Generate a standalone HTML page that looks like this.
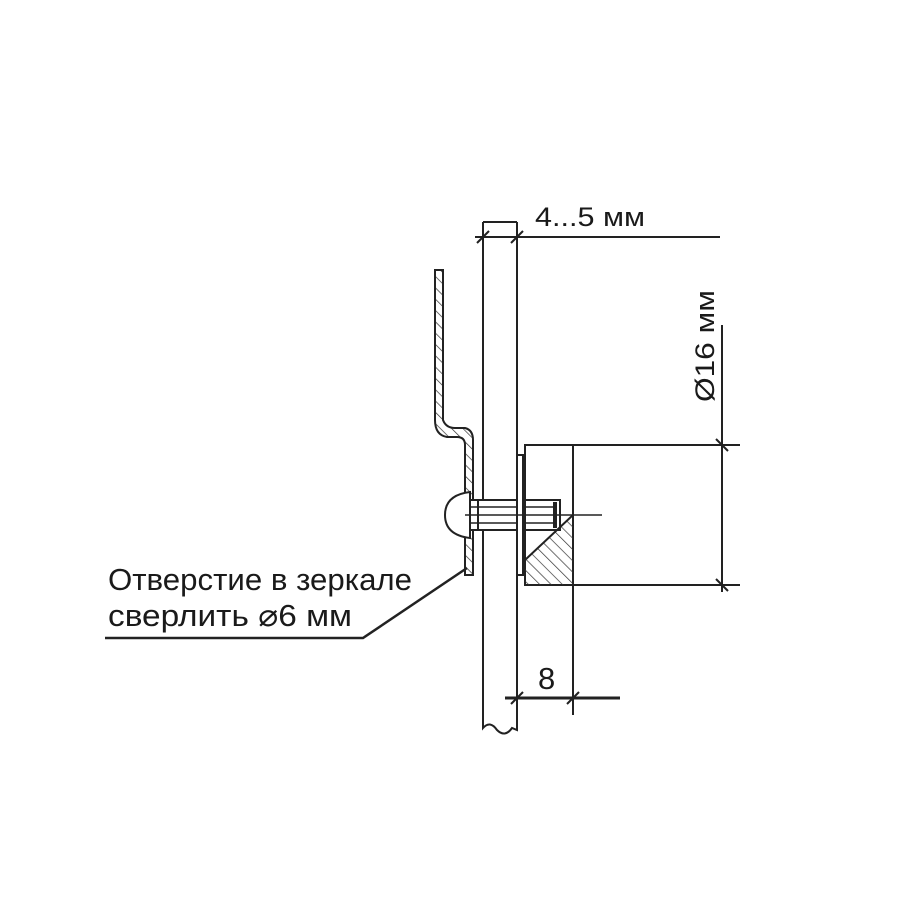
<!DOCTYPE html>
<html><head><meta charset="utf-8"><style>
body{margin:0;background:#fff;}
svg{display:block}
text{font-family:"Liberation Sans","DejaVu Sans",sans-serif;fill:#1a1a1a}
</style></head><body>
<svg width="900" height="900" viewBox="0 0 900 900" xmlns="http://www.w3.org/2000/svg">
<defs>
<pattern id="h" width="8" height="8" patternUnits="userSpaceOnUse" patternTransform="rotate(-45)">
<line x1="0" y1="0" x2="0" y2="8" stroke="#333" stroke-width="1.4"/></pattern>
</defs>
<g stroke="#222" stroke-width="2" fill="none">
<path d="M483 222 L483 728 Q490 720 497 730 Q505 738 512 728 L517 730 L517 222"/>
<line x1="483" y1="222" x2="517" y2="222"/>
<line x1="475" y1="237" x2="720" y2="237"/>
<line x1="477" y1="243" x2="489" y2="231"/>
<line x1="511" y1="243" x2="523" y2="231"/>
<path d="M435 270 L443 270 L443 420 Q446 428 455 428 L465 428 Q473 430 473 440 L473 575 L465 575 L465 445 Q465 437 457 437 L447 437 Q435 435 435 420 Z" fill="url(#h)"/>
<path d="M470 492 Q445 495 445 515 Q445 535 470 538 Z" fill="#fff"/>
<rect x="470" y="500" width="90" height="30" fill="#fff"/>
<line x1="478" y1="500" x2="478" y2="530"/>
<line x1="470" y1="507" x2="555" y2="507" stroke-width="1.4"/>
<line x1="470" y1="523" x2="555" y2="523" stroke-width="1.4"/>
<line x1="555" y1="502" x2="555" y2="528" stroke-width="4"/>
<rect x="517" y="455" width="6" height="120" fill="#fff"/>
<rect x="525" y="445" width="48" height="140"/>
<path d="M525 585 L525 560 L573 515 L573 585 Z" fill="url(#h)" stroke="none"/>
<line x1="525" y1="560" x2="573" y2="515"/>
<line x1="573" y1="445" x2="740" y2="445"/>
<line x1="573" y1="585" x2="740" y2="585"/>
<line x1="465" y1="515" x2="602" y2="515" stroke-width="1.4"/>
<line x1="722" y1="325" x2="722" y2="592"/>
<line x1="716" y1="439" x2="728" y2="451"/>
<line x1="716" y1="579" x2="728" y2="591"/>
<line x1="573" y1="585" x2="573" y2="715"/>
<line x1="505" y1="698" x2="620" y2="698" stroke-width="3"/>
<line x1="511" y1="704" x2="523" y2="692"/>
<line x1="567" y1="704" x2="579" y2="692"/>
<polyline points="105,638 363,638 467,568" stroke-width="2.5"/>
</g>
<text x="535" y="226" font-size="27" textLength="110" lengthAdjust="spacingAndGlyphs">4...5 мм</text>
<text x="538" y="689" font-size="31">8</text>
<text transform="translate(714,402) rotate(-90)" font-size="27" textLength="112" lengthAdjust="spacingAndGlyphs">Ø16 мм</text>
<text x="108" y="590" font-size="31" textLength="304" lengthAdjust="spacingAndGlyphs">Отверстие в зеркале</text>
<text x="108" y="626" font-size="31" textLength="244" lengthAdjust="spacingAndGlyphs">сверлить ⌀6 мм</text>
</svg>
</body></html>
